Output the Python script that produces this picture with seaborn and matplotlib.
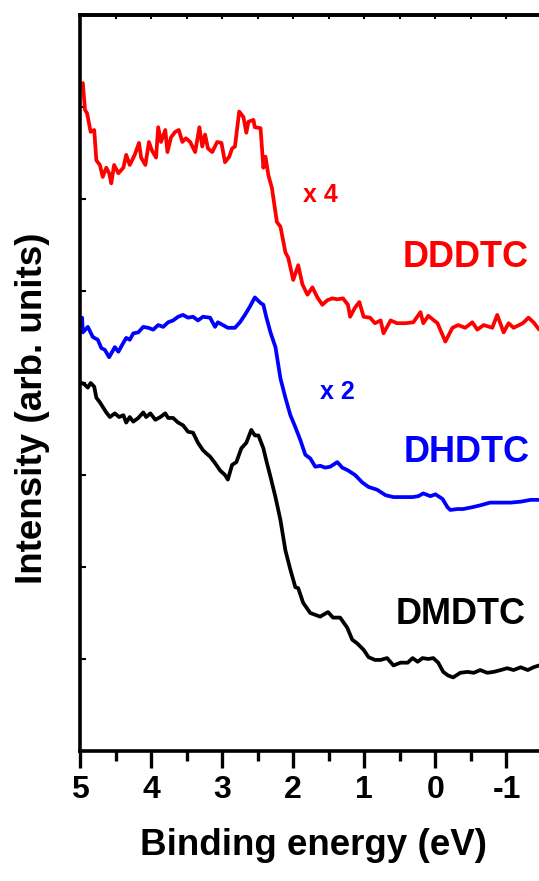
import numpy as np
import pandas as pd
import seaborn as sns
import matplotlib.pyplot as plt

# Valeurs (énergie de liaison en eV, intensité en u.a.)
dddtc_x = [4.96, 4.93, 4.90, 4.85, 4.80, 4.77, 4.72, 4.68, 4.63, 4.59, 4.56, 4.52, 4.46, 4.39,
           4.35, 4.30, 4.23, 4.17, 4.14, 4.08, 4.03, 3.99, 3.93, 3.90, 3.86, 3.80, 3.77, 3.72,
           3.66, 3.61, 3.56, 3.51, 3.45, 3.38, 3.32, 3.28, 3.24, 3.20, 3.14, 3.07, 3.01, 2.96,
           2.90, 2.86, 2.82, 2.76, 2.70, 2.66, 2.63, 2.56, 2.54, 2.46, 2.42, 2.39, 2.35, 2.30,
           2.23, 2.18, 2.11, 2.07, 2.00, 1.93, 1.87, 1.80, 1.73, 1.66, 1.59, 1.52, 1.45, 1.38,
           1.30, 1.23, 1.20, 1.13, 1.07, 1.01, 0.92, 0.85, 0.77, 0.73, 0.63, 0.54, 0.42, 0.31,
           0.21, 0.17, 0.10, -0.03, -0.14, -0.24, -0.32, -0.42, -0.52, -0.59, -0.68, -0.80,
           -0.87, -0.96, -1.03, -1.10, -1.23, -1.31, -1.38, -1.46]
dddtc_y = [7.26, 6.97, 6.93, 6.73, 6.75, 6.42, 6.37, 6.24, 6.34, 6.28, 6.17, 6.37, 6.28, 6.34,
           6.48, 6.37, 6.48, 6.61, 6.45, 6.37, 6.62, 6.53, 6.45, 6.78, 6.62, 6.75, 6.51, 6.67,
           6.73, 6.75, 6.62, 6.66, 6.62, 6.51, 6.78, 6.57, 6.70, 6.55, 6.51, 6.62, 6.61, 6.40,
           6.46, 6.55, 6.57, 6.95, 6.89, 6.72, 6.84, 6.86, 6.78, 6.77, 6.34, 6.46, 6.26, 6.12,
           5.75, 5.70, 5.42, 5.36, 5.12, 5.28, 5.07, 4.96, 5.04, 4.93, 4.85, 4.90, 4.92, 4.91,
           4.92, 4.85, 4.72, 4.82, 4.88, 4.72, 4.71, 4.65, 4.68, 4.54, 4.68, 4.65, 4.65, 4.66,
           4.77, 4.65, 4.73, 4.65, 4.45, 4.60, 4.63, 4.60, 4.66, 4.58, 4.63, 4.60,
           4.74, 4.55, 4.65, 4.60, 4.65, 4.71, 4.66, 4.58]

dhdtc_x = [4.97, 4.96, 4.89, 4.82, 4.75, 4.70, 4.65, 4.59, 4.51, 4.46, 4.41, 4.35, 4.30, 4.25,
           4.18, 4.11, 4.04, 3.97, 3.90, 3.83, 3.76, 3.69, 3.62, 3.55, 3.48, 3.41, 3.34, 3.27,
           3.17, 3.10, 3.06, 2.99, 2.92, 2.82, 2.75, 2.68, 2.61, 2.54, 2.46, 2.42, 2.38, 2.32,
           2.25, 2.18, 2.11, 2.04, 1.97, 1.90, 1.83, 1.76, 1.69, 1.62, 1.55, 1.48, 1.38, 1.31,
           1.23, 1.13, 1.03, 0.94, 0.82, 0.70, 0.59, 0.45, 0.32, 0.24, 0.17, 0.07, 0.00, -0.10,
           -0.17, -0.21, -0.31, -0.39, -0.52, -0.63, -0.77, -0.92, -1.06, -1.20, -1.34, -1.45]
dhdtc_y = [4.71, 4.55, 4.61, 4.50, 4.47, 4.38, 4.36, 4.28, 4.39, 4.34, 4.41, 4.49, 4.47, 4.54,
           4.55, 4.61, 4.60, 4.58, 4.63, 4.61, 4.66, 4.68, 4.72, 4.74, 4.71, 4.72, 4.68, 4.72,
           4.71, 4.61, 4.66, 4.63, 4.60, 4.60, 4.66, 4.74, 4.83, 4.93, 4.87, 4.85, 4.72, 4.55,
           4.39, 4.05, 3.84, 3.65, 3.52, 3.38, 3.22, 3.18, 3.09, 3.10, 3.08, 3.09, 3.14, 3.08,
           3.05, 3.00, 2.92, 2.87, 2.84, 2.78, 2.76, 2.76, 2.76, 2.77, 2.80, 2.77, 2.79, 2.74,
           2.65, 2.62, 2.63, 2.63, 2.65, 2.67, 2.70, 2.70, 2.70, 2.71, 2.73, 2.73]

dmdtc_x = [4.97, 4.93, 4.89, 4.85, 4.80, 4.77, 4.72, 4.68, 4.63, 4.58, 4.51, 4.45, 4.39, 4.35,
           4.30, 4.25, 4.18, 4.11, 4.07, 4.01, 3.94, 3.87, 3.80, 3.76, 3.69, 3.62, 3.55, 3.48,
           3.41, 3.34, 3.27, 3.23, 3.17, 3.10, 3.03, 2.96, 2.92, 2.86, 2.80, 2.73, 2.66, 2.59,
           2.54, 2.49, 2.42, 2.38, 2.32, 2.25, 2.18, 2.11, 2.04, 1.97, 1.93, 1.86, 1.76, 1.69,
           1.62, 1.58, 1.51, 1.44, 1.34, 1.24, 1.17, 1.10, 1.01, 0.94, 0.85, 0.77, 0.68, 0.59,
           0.49, 0.39, 0.32, 0.25, 0.18, 0.10, 0.03, -0.04, -0.11, -0.18, -0.25, -0.35, -0.45,
           -0.54, -0.63, -0.73, -0.82, -0.92, -1.01, -1.10, -1.20, -1.30, -1.38, -1.46]
dmdtc_y = [4.00, 3.98, 3.95, 4.00, 3.96, 3.84, 3.79, 3.74, 3.68, 3.63, 3.67, 3.63, 3.65, 3.57,
           3.63, 3.58, 3.62, 3.68, 3.63, 3.67, 3.60, 3.63, 3.67, 3.62, 3.62, 3.57, 3.54, 3.47,
           3.46, 3.35, 3.27, 3.24, 3.20, 3.13, 3.05, 3.00, 2.95, 3.11, 3.14, 3.29, 3.35, 3.49,
           3.43, 3.43, 3.29, 3.16, 2.98, 2.76, 2.51, 2.18, 1.97, 1.78, 1.77, 1.61, 1.50, 1.48,
           1.46, 1.48, 1.51, 1.45, 1.45, 1.34, 1.21, 1.17, 1.10, 1.02, 0.99, 0.99, 1.01, 0.93,
           0.96, 0.96, 1.01, 0.97, 1.01, 1.00, 1.01, 0.96, 0.86, 0.82, 0.80, 0.85, 0.86,
           0.85, 0.88, 0.85, 0.86, 0.88, 0.90, 0.88, 0.91, 0.88, 0.91, 0.93]

xticks = [5, 4, 3, 2, 1, 0, -1]
xtick_labels = ['5', '4', '3', '2', '1', '0', '-1']

sns.set_style('ticks')
plt.rcParams['font.family'] = ['Liberation Sans', 'DejaVu Sans']
plt.rcParams['font.weight'] = 'bold'
plt.rcParams['axes.unicode_minus'] = False
plt.rcParams['text.color'] = 'black'
plt.rcParams['axes.labelcolor'] = 'black'
plt.rcParams['xtick.color'] = 'black'
plt.rcParams['ytick.color'] = 'black'

fig = plt.figure(figsize=(5.39, 8.81), dpi=100)
ax = fig.add_axes([80 / 539, 1 - 751 / 881, 462 / 539, 736 / 881])

series = [(dddtc_x, dddtc_y, '#ff0000'), (dhdtc_x, dhdtc_y, '#0000ff'), (dmdtc_x, dmdtc_y, 'black')]
for xs, ys, c in series:
    sns.lineplot(x=xs, y=ys, ax=ax, color=c, linewidth=2.7, sort=False, estimator=None)

ax.set_xlim(5, -1.5)
ax.set_ylim(0, 8)
ax.set_xticks(xticks, labels=xtick_labels, fontsize=23, fontweight='bold', color='black')
ax.set_xticks(np.arange(-1.5, 5, 0.5), minor=True)
ax.set_yticks(range(0, 9))
ax.set_yticklabels([])
ax.tick_params(axis='x', which='major', direction='out', length=12, width=2.4, pad=5)
ax.tick_params(axis='x', which='minor', direction='out', length=7, width=2.4)
ax.tick_params(axis='y', which='major', direction='in', length=4, width=1.5)
for s in ax.spines.values():
    s.set_linewidth(2.6)
    s.set_color('black')

top = ax.secondary_xaxis('top')
top.set_xticks(xticks)
top.set_xticks(np.arange(-1.5, 5, 0.5), minor=True)
top.set_xticklabels([])
top.tick_params(which='both', direction='in', length=3, width=1.5, color='black')
top.spines['top'].set_linewidth(2.6)
top.spines['top'].set_color('black')

ax.set_xlabel('Binding energy (eV)', fontsize=26.5, fontweight='bold', color='black')
ax.xaxis.set_label_coords((313 - 80) / 462, -(828 - 751) / 736)
ax.set_ylabel('Intensity (arb. units)', fontsize=26.5, fontweight='bold', color='black')
ax.yaxis.set_label_coords(-(80 - 50) / 462, (751 - 408) / 736)

ax.text(1.62, 6.04, 'x 4', color='#ff0000', fontsize=18, fontweight='bold', ha='center', va='center')
ax.text(-0.42, 5.36, 'DDDTC', color='#ff0000', fontsize=26, fontweight='bold', ha='center', va='center')
ax.text(1.38, 3.90, 'x 2', color='#0000ff', fontsize=18, fontweight='bold', ha='center', va='center')
ax.text(-0.44, 3.24, 'DHDTC', color='#0000ff', fontsize=26, fontweight='bold', ha='center', va='center')
ax.text(-0.35, 1.48, 'DMDTC', color='black', fontsize=26, fontweight='bold', ha='center', va='center')

fig.savefig('out.png', dpi=100)
